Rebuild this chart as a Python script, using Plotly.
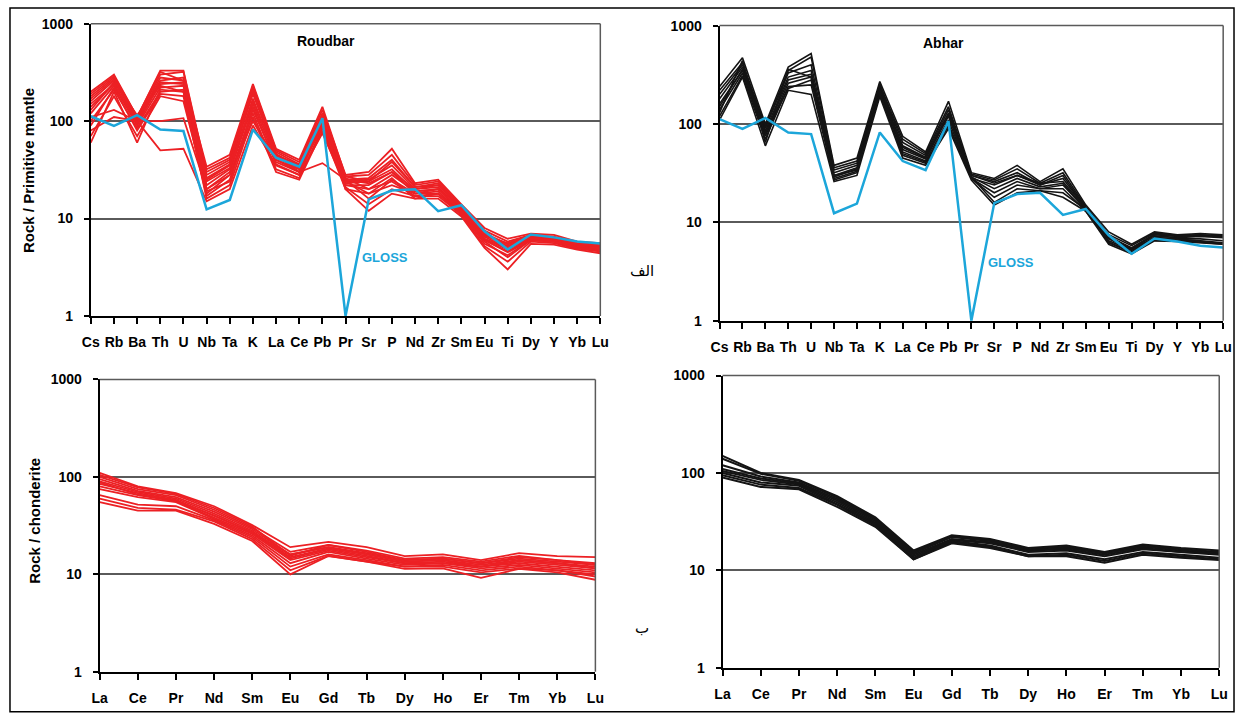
import plotly.graph_objects as go

W, H = 1244, 713

trace_elems = ["Cs","Rb","Ba","Th","U","Nb","Ta","K","La","Ce","Pb","Pr","Sr","P","Nd","Zr","Sm","Eu","Ti","Dy","Y","Yb","Lu"]
ree_elems = ["La","Ce","Pr","Nd","Sm","Eu","Gd","Tb","Dy","Ho","Er","Tm","Yb","Lu"]

gloss = [112, 89, 115, 82, 79, 12.4, 15.5, 82, 42, 34, 107, 1.0, 15.7, 19.4, 20, 11.9, 13.7, 7.4, 4.8, 6.85, 6.4, 5.8, 5.55]

roudbar_trace = [
    [200,300,110,330,330,30,40,230,50,38,130,28,30,52,23,25,14,8,6.2,7,6.8,5.8,5.6],
    [180,280,105,300,320,28,38,210,48,36,120,27,28,45,22,24,13.5,7.5,5.8,6.8,6.5,5.6,5.4],
    [160,260,100,260,280,25,35,190,45,35,110,25,26,40,21,22,13,7,5.5,6.6,6.3,5.5,5.3],
    [140,240,95,240,250,22,32,170,42,33,100,24,25,35,20,21,12.5,6.5,5,6.4,6.2,5.4,5.1],
    [120,230,90,220,230,20,30,150,40,32,95,23,24,32,19,20,12,6,4.6,6.2,6.0,5.2,5.0],
    [100,210,85,200,210,18,28,130,38,30,90,22,22,30,18,19,11.5,5.5,4.2,6.0,5.8,5.0,4.8],
    [130,250,115,230,200,32,42,200,46,34,105,26,20,28,19,20,12,6.8,5.2,6.5,6.2,5.3,5.0],
    [170,270,100,280,260,26,36,220,44,36,115,25,16,25,18,18,11,6.2,4.8,6.3,6.0,5.1,4.8],
    [90,220,80,190,180,17,25,120,32,26,85,21,14,20,17,17,11,5.2,3.6,5.8,5.6,4.9,4.6],
    [60,200,60,210,200,16,22,110,30,25,80,20,12,18,16,16,10.5,5,3.0,5.5,5.4,4.8,4.4],
    [110,130,100,100,107,20,28,100,40,30,90,24,18,22,18,20,12,6.2,5.0,6.3,6.0,5.2,5.0],
    [80,110,100,50,52,15,20,90,35,28,75,22,20,24,17,18,11.5,6,4.5,6,5.8,5,4.8],
    [150,240,95,250,240,24,33,160,45,30,37,25,23,30,20,22,13,7,5.4,6.6,6.3,5.4,5.2],
    [190,290,110,320,260,34,45,240,52,40,140,27,24,38,21,23,13,6.6,5.6,6.7,6.4,5.5,5.2],
    [70,180,70,180,160,19,24,140,36,28,100,20,18,26,16,18,11,5.8,4.0,6.0,5.8,5.0,4.6],
]

abhar_trace = [
    [240,470,100,380,520,38,45,270,75,52,170,32,28,38,26,35,15,8,6,8,7.5,7.7,7.5],
    [220,420,95,350,480,36,42,250,70,50,150,31,27,35,25,32,14.5,7.5,5.8,7.8,7.4,7.5,7.3],
    [200,400,90,330,400,34,40,240,65,48,140,30,26,32,24,30,14,7.2,5.5,7.5,7.2,7.4,7.2],
    [180,380,85,300,350,32,38,230,60,46,130,30,25,30,24,28,14,7,5.4,7.3,7,7.2,7],
    [160,350,80,280,320,30,36,220,55,44,120,29,22,28,23,25,13.5,6.8,5.3,7,6.8,6.8,6.5],
    [140,330,75,260,300,29,35,210,52,42,110,28,20,26,22,24,13.5,6.5,5.2,6.8,6.6,6.5,6.2],
    [120,310,70,240,250,28,33,200,48,40,100,28,18,24,22,22,13,6.3,5,6.6,6.5,6.3,6],
    [110,300,60,220,200,26,30,190,45,38,90,27,15,20,21,18,13,6,4.8,6.5,6.4,6.2,6],
    [130,440,65,360,300,27,32,260,50,41,95,29,16,22,21,20,13.5,6.2,5,7,6.8,6.4,6.1],
    [150,360,80,230,280,30,34,200,58,45,125,28,24,30,25,26,14,7,5.5,7.6,7.3,7.3,7.2],
]

roudbar_ree = [
    [110,80,68,50,32,19,21.5,19,15.4,16,14,16.5,15.4,15],
    [100,75,65,46,30,17,20,17.5,14.5,15,13.5,15.5,14,13],
    [95,72,62,44,29,16,19,16.5,14,14.5,13,14.5,13.5,12.5],
    [90,70,60,42,28,15,18.5,16,13.5,14,12.5,14,13,12],
    [85,68,58,40,27,14.5,18,15.5,13,13.5,12,13.5,12.5,11.5],
    [80,65,56,38,26,14,17.5,15,13,13,12,13,12,11],
    [75,62,55,37,25,13,17,14.5,12.5,13,11.5,12.5,11.5,10.5],
    [65,52,50,36,24,12,16,14,12,12.5,11,12,11,10],
    [55,45,45,33,22,10,15.4,13.5,11.4,11.5,9.2,11.4,10.5,8.8],
    [60,48,46,35,23,11,15.5,13.5,12,12,10.5,11.5,11,9.5],
    [105,78,67,48,31,15.5,20,17,14,14.5,13,15,14,12.5],
    [88,66,57,40,27,16,19,16,13.5,14,12,14,13,11.5],
]

abhar_ree = [
    [150,100,85,58,35,16,23,21,17,18,15.5,18.5,17,16],
    [140,98,83,56,34,15.5,22.5,20.5,16.5,17.5,15,18,16.5,15.5],
    [120,92,80,54,33,15,22,20,16,17,15,17.5,16,15],
    [110,88,78,52,32,14.5,21,19.5,16,16.5,14.5,17,15.5,15],
    [105,85,76,50,31,14,20.5,19,15.5,16,14,16.5,15.5,14.5],
    [100,80,74,48,30,13.5,20,18,14.5,15,13,15.5,14.5,13.5],
    [95,76,70,47,29,13,19.5,17.5,14,14.5,12.5,15,14,13],
    [90,72,68,45,28,13,19,17,14,14,12,14.5,13.5,12.8],
]

RED = "rgb(236,32,36)"
BLUE = "rgb(28,166,218)"
BLACK = "rgb(20,20,20)"
FONT = "Liberation Sans, Arial, sans-serif"

def px_x(p):
    return p / W

def px_y(p):
    return 1 - p / H

# panel geometry (pixels): left, right, top, bottom
panels = [
    (83, 600, 16, 315),
    (721, 1232, 18, 320),
    (92, 595, 380, 679),
    (724, 1228, 376, 675),
]

fig = go.Figure()

def add_lines(series, elems, color, width, axis_idx):
    xs = list(range(len(elems)))
    suffix = "" if axis_idx == 1 else str(axis_idx)
    for s in series:
        fig.add_trace(go.Scatter(x=xs, y=s, mode="lines",
                                 line=dict(color=color, width=width),
                                 xaxis="x" + suffix, yaxis="y" + suffix,
                                 showlegend=False, hoverinfo="skip"))

add_lines(roudbar_trace, trace_elems, RED, 1.8, 1)
add_lines([gloss], trace_elems, BLUE, 2.5, 1)
add_lines(abhar_trace, trace_elems, BLACK, 1.6, 2)
add_lines([gloss], trace_elems, BLUE, 2.5, 2)
add_lines(roudbar_ree, ree_elems, RED, 1.8, 3)
add_lines(abhar_ree, ree_elems, BLACK, 2.0, 4)

layout = dict(
    width=W, height=H,
    margin=dict(l=0, r=0, t=0, b=0),
    paper_bgcolor="white", plot_bgcolor="white",
    showlegend=False,
    font=dict(family=FONT, color="black"),
)

shapes = []
for i, (l, r, t, b) in enumerate(panels, start=1):
    elems = trace_elems if i <= 2 else ree_elems
    suffix = "" if i == 1 else str(i)
    layout["xaxis" + suffix] = dict(
        domain=[px_x(l), px_x(r)],
        anchor="y" + suffix,
        range=[0, len(elems) - 1],
        tickmode="array", tickvals=list(range(len(elems))), ticktext=elems,
        showline=True, linecolor="black", linewidth=2,
        ticks="outside", ticklen=6, tickwidth=2, tickcolor="black",
        showgrid=False, zeroline=False,
        tickfont=dict(family=FONT, size=14, color="black", weight="bold"),
        ticklabelstandoff=6,
        fixedrange=True,
    )
    layout["yaxis" + suffix] = dict(
        domain=[px_y(b), px_y(t)],
        anchor="x" + suffix,
        type="log", range=[0, 3],
        tickmode="array", tickvals=[1, 10, 100, 1000], ticktext=["1", "10", "100", "1000"],
        showline=True, linecolor="black", linewidth=2,
        ticks="outside", ticklen=5, tickwidth=2, tickcolor="black",
        showgrid=True, gridcolor="rgb(90,90,90)", gridwidth=1.5,
        zeroline=False,
        tickfont=dict(family=FONT, size=14, color="black", weight="bold"),
        ticklabelstandoff=8,
        fixedrange=True,
    )
    shapes.append(dict(type="line", xref="x" + suffix + " domain", yref="y" + suffix + " domain",
                       x0=0, x1=1, y0=1, y1=1, line=dict(color="rgb(90,90,90)", width=1.5)))
    shapes.append(dict(type="line", xref="x" + suffix + " domain", yref="y" + suffix + " domain",
                       x0=1, x1=1, y0=0, y1=1, line=dict(color="rgb(90,90,90)", width=1.5)))

# outer frame
shapes.append(dict(type="rect", xref="paper", yref="paper",
                   x0=px_x(1), x1=px_x(1243), y0=px_y(720), y1=px_y(0),
                   line=dict(color="black", width=1.5), fillcolor="rgba(0,0,0,0)", layer="below"))

layout["shapes"] = shapes

def note(text, x, y, size, color="black", family=FONT, bold=True, angle=0):
    return dict(text=text, x=px_x(x), y=px_y(y), xref="paper", yref="paper",
                xanchor="center", yanchor="middle", showarrow=False, textangle=angle,
                font=dict(family=family, size=size, color=color,
                          weight="bold" if bold else "normal"))

annotations = [
    note("Roudbar", 322, 34, 14),
    note("Abhar", 948, 36, 14),
    note("GLOSS", 382, 255, 13, BLUE),
    note("GLOSS", 1017, 260, 13, BLUE),
    note("Rock / Primitive mantle", 20, 166, 15, angle=-90),
    note("Rock / chonderite", 26, 525, 15, angle=-90),
    note("الف", 642, 269, 15, family="DejaVu Sans, Noto Sans", bold=False),
    note("ب", 642, 634, 15, family="DejaVu Sans, Noto Sans", bold=False),
]
layout["annotations"] = annotations

fig.update_layout(**layout)
fig.write_html("out.html",
               config={"displayModeBar": False},
               post_script="document.body.style.margin='0';document.body.style.overflow='hidden';")
